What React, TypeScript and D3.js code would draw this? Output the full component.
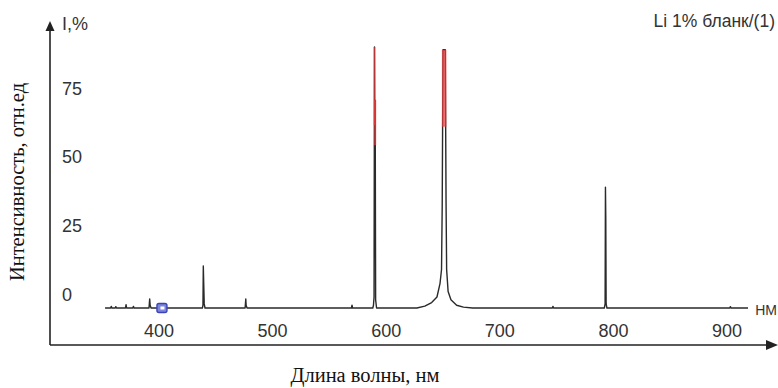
import React from "react";
import * as d3 from "d3";

// wavelength (nm), intensity (%)
const wavelengths: number[] = [
  352.5, 357.5, 358, 358.5, 361.5, 362, 362.5, 370.5, 371, 371.5, 377, 377.5, 378,
  391.2, 391.8, 392.2, 393,
  438.2, 438.7, 439.0, 439.4, 439.8, 440.5,
  475.8, 476.4, 476.7, 477.5,
  569.4, 569.9, 570.4,
  588.2, 588.8, 589.3, 589.7, 590.0, 590.3, 590.7, 591.5,
  627, 634, 640, 644.7, 647.4, 648.7, 649.3, 650.0, 652.0, 652.7, 653.2, 654.5, 657, 662, 668, 676,
  746.3, 746.8, 747.3,
  792.0, 792.7, 793.0, 793.3, 793.6, 794.3,
  902.5, 903, 903.5,
  918.5,
];
const intensities: number[] = [
  0, 0, 0.6, 0, 0, 0.5, 0, 0, 1.2, 0, 0, 0.6, 0,
  0, 3.3, 1, 0,
  0, 1, 15.3, 8.4, 1.5, 0,
  0, 3.3, 1, 0,
  0, 1.0, 0,
  0, 1, 4, 95, 60, 75.7, 3, 0,
  0, 0.7, 2, 4, 9, 14, 37, 94, 94, 38, 14, 6, 3, 1, 0.3, 0,
  0, 0.6, 0,
  0, 1.5, 44, 32.8, 1.5, 0,
  0, 0.5, 0,
  0,
];

// saturated (overexposed) parts of lines: wavelength, top, bottom
const satWavelengths: number[] = [589.7, 590.3, 651.0];
const satTops: number[] = [95, 75.7, 94];
const satBottoms: number[] = [66.6, 59.3, 66];
const satWidths: number[] = [1.6, 2, 4.5];

const yTicks: number[] = [0, 25, 50, 75];
const xTicks: number[] = [400, 500, 600, 700, 800, 900];
const markerWavelengths: number[] = [402.6];

const W = 778;
const H = 388;

export default function App() {
  const x = d3.scaleLinear().domain([400, 900]).range([159, 727]);
  const y = d3.scaleLinear().domain([0, 75]).range([308, 102]);

  const pts: [number, number][] = wavelengths.map((w, i) => [w, intensities[i]]);
  const line = d3
    .line<[number, number]>()
    .x((d) => x(d[0]))
    .y((d) => y(d[1]));

  const sans = "'Liberation Sans', Arial, sans-serif";
  const serif = "'Liberation Serif', 'Times New Roman', serif";

  return (
    <svg
      width={W}
      height={H}
      viewBox={`0 0 ${W} ${H}`}
      style={{ position: "absolute", left: 0, top: 0, background: "#fff" }}
    >
      {/* axes */}
      <line x1={50} y1={345} x2={50} y2={30} stroke="#222" strokeWidth={1.6} />
      <path d="M50,21 L45.5,31 L54.5,31 Z" fill="#222" />
      <line x1={50} y1={345} x2={768} y2={345} stroke="#222" strokeWidth={1.6} />
      <path d="M778,345 L766,340 L766,350 Z" fill="#222" />

      {/* y tick labels */}
      {yTicks.map((t) => (
        <text
          key={t}
          x={62}
          y={y(t) - 12}
          dominantBaseline="middle"
          fontFamily={sans}
          fontSize={18}
          fill="#333"
        >
          {t}
        </text>
      ))}
      <text x={62} y={30} fontFamily={sans} fontSize={18} fill="#333">
        I,%
      </text>

      {/* x tick labels */}
      {xTicks.map((t) => (
        <text
          key={t}
          x={x(t)}
          y={337}
          textAnchor="middle"
          fontFamily={sans}
          fontSize={18}
          fill="#333"
        >
          {t}
        </text>
      ))}
      <text x={777} y={315} textAnchor="end" fontFamily={sans} fontSize={14} fill="#333">
        НМ
      </text>

      {/* spectrum */}
      <path d={line(pts) ?? ""} fill="none" stroke="#2a2a2a" strokeWidth={1.4} strokeLinejoin="round" />

      {/* saturated parts */}
      {satWavelengths.map((w, i) => (
        <line
          key={i}
          x1={x(w)}
          x2={x(w)}
          y1={y(satTops[i])}
          y2={y(satBottoms[i])}
          stroke="#f03a3a"
          strokeOpacity={0.7}
          strokeWidth={satWidths[i]}
        />
      ))}

      {/* marker */}
      {markerWavelengths.map((w, i) => (
        <g key={i} transform={`translate(${x(w)},${y(0)})`}>
          <rect x={-5} y={-4.5} width={10} height={9} rx={2} fill="#7d86d8" stroke="#3a44b8" strokeWidth={1.4} />
          <rect x={-1.5} y={-1.5} width={4} height={3} fill="#fff" />
        </g>
      ))}

      {/* title */}
      <text x={775} y={27} textAnchor="end" fontFamily={sans} fontSize={17.5} fill="#333">
        Li 1% бланк/(1)
      </text>

      {/* axis titles */}
      <text
        transform="translate(24,182) rotate(-90)"
        textAnchor="middle"
        fontFamily={serif}
        fontSize={20.5}
        fill="#111"
      >
        Интенсивность, отн.ед
      </text>
      <text x={365} y={382} textAnchor="middle" fontFamily={serif} fontSize={20.5} fill="#111">
        Длина волны, нм
      </text>
    </svg>
  );
}
